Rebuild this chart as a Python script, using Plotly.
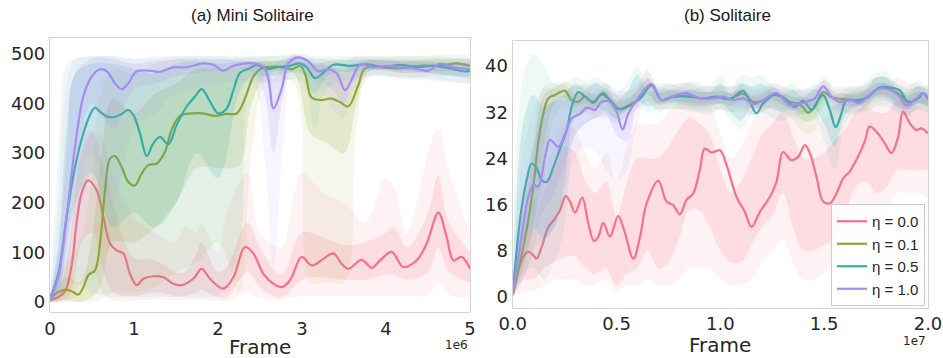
import plotly.graph_objects as go

# ---------------- data ----------------
LABELS = ["η = 0.0", "η = 0.1", "η = 0.5", "η = 1.0"]
COLORS = ["#f77189", "#97a431", "#36ada4", "#a48cf4"]

# ----- (a) Mini Solitaire : x in units of 1e6 frames -----
A0_X = [0, 0.1, 0.18, 0.26, 0.32, 0.38, 0.45, 0.556, 0.635, 0.714, 0.794, 0.873, 0.952, 1.032, 1.111, 1.23, 1.349, 1.468, 1.567, 1.706, 1.806, 1.905, 2.063, 2.183, 2.321, 2.421, 2.54, 2.659, 2.758, 2.857, 2.996, 3.115, 3.254, 3.373, 3.472, 3.552, 3.71, 3.829, 3.929, 4.067, 4.206, 4.365, 4.484, 4.623, 4.722, 4.802, 4.901, 5.0]
A0_Y = [5, 10, 22, 77, 165, 222, 245, 225, 172, 118, 104, 98, 57, 34, 47, 52, 50, 37, 34, 47, 67, 47, 27, 50, 111, 98, 57, 37, 30, 44, 91, 74, 87, 98, 77, 67, 85, 69, 84, 101, 71, 84, 118, 180, 131, 84, 91, 67]
A0_BX = [0, 0.125, 0.25, 0.375, 0.5, 0.625, 0.75, 1, 1.25, 1.5, 1.6, 1.75, 1.8, 2, 2.1, 2.35, 2.5, 2.75, 3, 3.25, 3.5, 3.75, 4, 4.1, 4.25, 4.5, 4.62, 4.75, 5]
A0_ILO = [0, 2, 20, 120, 140, 70, 20, 12, 20, 12, 12, 20, 25, 10, 10, 60, 30, 10, 45, 50, 45, 45, 55, 55, 45, 60, 110, 60, 40]
A0_IHI = [10, 30, 140, 300, 340, 280, 200, 90, 85, 60, 60, 100, 120, 60, 70, 160, 110, 55, 140, 130, 115, 120, 140, 150, 110, 180, 255, 160, 100]
A0_OLO = [0, 0, 5, 40, 60, 20, 3, 3, 5, 3, 3, 5, 5, 2, 2, 20, 8, 5, 12, 12, 12, 12, 12, 12, 12, 15, 40, 15, 10]
A0_OHI = [15, 60, 200, 330, 345, 330, 260, 170, 140, 120, 150, 140, 160, 100, 180, 260, 140, 110, 260, 220, 200, 160, 250, 230, 140, 300, 350, 260, 140]

A1_X = [0, 0.099, 0.198, 0.278, 0.337, 0.397, 0.456, 0.536, 0.595, 0.655, 0.714, 0.774, 0.853, 0.933, 1.012, 1.091, 1.171, 1.27, 1.369, 1.448, 1.548, 1.687, 1.825, 1.964, 2.103, 2.222, 2.321, 2.421, 2.52, 2.639, 2.778, 2.877, 2.98, 3.04, 3.115, 3.234, 3.353, 3.45, 3.55, 3.67, 3.75, 3.968, 4.167, 4.405, 4.643, 4.841, 5.0]
A1_Y = [7, 20, 25, 20, 15, 30, 54, 64, 118, 225, 289, 294, 272, 242, 235, 259, 276, 279, 303, 347, 375, 380, 380, 375, 379, 380, 410, 454, 471, 474, 473, 469, 476, 458, 412, 407, 410, 403, 394, 437, 471, 473, 471, 476, 476, 481, 476]
A1_BX = [0, 0.2, 0.35, 0.5, 0.6, 0.75, 1.0, 1.25, 1.5, 1.75, 2.0, 2.25, 2.4, 2.6, 2.9, 3.1, 3.3, 3.5, 3.65, 3.8, 4.2, 4.6, 5.0]
A1_ILO = [0, 5, 0, 10, 30, 120, 120, 150, 200, 270, 270, 275, 400, 460, 460, 340, 320, 300, 400, 465, 462, 465, 465]
A1_IHI = [10, 50, 40, 130, 280, 410, 380, 420, 440, 470, 470, 470, 480, 485, 485, 480, 475, 470, 480, 488, 485, 490, 488]
A1_OLO = [0, 0, 0, 0, 5, 20, 20, 30, 60, 80, 120, 20, 300, 450, 440, 40, 40, 40, 350, 455, 450, 455, 455]
A1_OHI = [15, 80, 120, 250, 420, 470, 460, 480, 490, 490, 490, 490, 495, 495, 495, 490, 490, 490, 495, 495, 495, 498, 498]

A2_X = [0, 0.099, 0.198, 0.298, 0.397, 0.476, 0.536, 0.595, 0.714, 0.833, 0.933, 0.992, 1.071, 1.151, 1.23, 1.31, 1.409, 1.508, 1.627, 1.726, 1.806, 1.905, 2.004, 2.103, 2.183, 2.262, 2.381, 2.46, 2.579, 2.698, 2.857, 2.976, 3.056, 3.155, 3.254, 3.373, 3.571, 3.77, 3.968, 4.167, 4.365, 4.563, 4.762, 4.921, 5.0]
A2_Y = [7, 57, 172, 272, 340, 377, 392, 383, 372, 377, 387, 377, 340, 294, 320, 333, 318, 357, 394, 414, 429, 404, 380, 390, 427, 462, 471, 478, 469, 473, 476, 481, 473, 451, 462, 478, 476, 479, 474, 478, 474, 476, 471, 465, 466]
A2_BX = [0, 0.1, 0.2, 0.3, 0.5, 0.75, 1.0, 1.25, 1.5, 1.75, 2.0, 2.25, 2.4, 2.6, 3.0, 3.15, 3.3, 3.6, 4.0, 4.5, 5.0]
A2_ILO = [0, 20, 120, 200, 260, 150, 180, 150, 200, 300, 250, 420, 455, 455, 460, 420, 455, 465, 468, 462, 450]
A2_IHI = [10, 120, 350, 460, 480, 480, 470, 460, 480, 485, 480, 485, 485, 485, 490, 480, 485, 488, 488, 485, 480]
A2_OLO = [0, 5, 30, 40, 20, 10, 10, 10, 10, 10, 15, 100, 440, 440, 445, 350, 430, 450, 455, 450, 440]
A2_OHI = [15, 300, 480, 490, 495, 495, 490, 490, 495, 495, 495, 495, 495, 495, 500, 495, 495, 495, 495, 495, 490]

A3_X = [0, 0.099, 0.198, 0.298, 0.397, 0.496, 0.595, 0.675, 0.774, 0.853, 0.933, 1.032, 1.19, 1.31, 1.468, 1.627, 1.825, 1.944, 2.063, 2.183, 2.421, 2.54, 2.6, 2.66, 2.758, 2.837, 2.956, 3.075, 3.194, 3.313, 3.413, 3.512, 3.591, 3.69, 3.849, 4.008, 4.167, 4.325, 4.504, 4.643, 4.802, 5.0]
A3_Y = [5, 50, 172, 313, 414, 454, 469, 465, 441, 429, 441, 465, 466, 464, 473, 473, 481, 478, 466, 476, 481, 474, 450, 390, 430, 481, 493, 485, 465, 469, 461, 427, 448, 478, 473, 476, 473, 471, 466, 480, 473, 469]
A3_BX = [0, 0.1, 0.2, 0.3, 0.5, 0.75, 1.0, 1.25, 1.5, 2.0, 2.4, 2.55, 2.66, 2.78, 2.9, 3.2, 3.4, 3.5, 3.6, 3.8, 4.2, 4.6, 5.0]
A3_ILO = [0, 20, 120, 260, 400, 350, 430, 440, 455, 465, 465, 420, 300, 420, 480, 450, 420, 400, 440, 465, 462, 460, 455]
A3_IHI = [10, 100, 300, 460, 490, 490, 480, 485, 488, 488, 485, 480, 450, 480, 497, 482, 470, 460, 480, 487, 483, 482, 482]
A3_OLO = [0, 5, 60, 180, 300, 200, 350, 380, 420, 440, 440, 300, 70, 330, 470, 430, 380, 370, 420, 455, 450, 445, 440]
A3_OHI = [15, 200, 440, 490, 495, 495, 490, 495, 495, 495, 490, 490, 480, 490, 500, 490, 485, 480, 490, 492, 490, 490, 490]

# ----- (b) Solitaire : x in units of 1e7 frames -----
B0_X = [0, 0.027, 0.051, 0.075, 0.099, 0.115, 0.14, 0.172, 0.204, 0.228, 0.255, 0.276, 0.3, 0.335, 0.364, 0.391, 0.412, 0.436, 0.468, 0.508, 0.536, 0.581, 0.613, 0.645, 0.701, 0.741, 0.773, 0.805, 0.837, 0.869, 0.901, 0.925, 0.958, 0.998, 1.03, 1.078, 1.118, 1.15, 1.19, 1.238, 1.27, 1.302, 1.342, 1.375, 1.407, 1.431, 1.463, 1.495, 1.527, 1.559, 1.591, 1.623, 1.663, 1.695, 1.719, 1.759, 1.792, 1.824, 1.856, 1.88, 1.912, 1.944, 1.968, 2.0]
B0_Y = [0.3, 4.6, 6.9, 7.8, 7.2, 6.6, 8.7, 12.1, 13.6, 15.0, 17.5, 16.5, 14.6, 17.2, 12.7, 9.7, 10.4, 12.8, 10.4, 14.0, 11.6, 6.6, 10.4, 16.2, 20.1, 16.5, 15.9, 14.3, 16.8, 17.9, 22.0, 25.7, 25.0, 25.4, 22.8, 17.3, 14.7, 12.1, 14.7, 17.3, 19.9, 25.1, 23.7, 24.3, 26.3, 24.9, 20.8, 16.5, 16.2, 17.9, 20.5, 21.7, 24.3, 26.9, 29.5, 28.3, 26.6, 24.9, 27.7, 32.1, 30.1, 28.9, 29.2, 28.3]
B1_X = [0, 0.027, 0.067, 0.099, 0.132, 0.172, 0.204, 0.252, 0.284, 0.316, 0.348, 0.388, 0.436, 0.5, 0.565, 0.613, 0.669, 0.717, 0.773, 0.853, 0.917, 0.982, 1.046, 1.11, 1.158, 1.206, 1.27, 1.334, 1.375, 1.399, 1.423, 1.456, 1.495, 1.535, 1.607, 1.671, 1.719, 1.767, 1.816, 1.864, 1.904, 1.952, 1.976, 2.0]
B1_Y = [0.3, 4.6, 11.6, 19.1, 28.9, 34.4, 35.0, 35.7, 34.1, 33.8, 34.7, 33.6, 35.3, 32.6, 33.3, 34.4, 36.7, 34.1, 34.7, 34.8, 34.4, 34.6, 34.3, 35.2, 33.8, 34.0, 35.2, 33.8, 33.5, 32.8, 31.9, 33.0, 35.5, 34.6, 34.2, 34.0, 35.0, 36.2, 36.0, 35.0, 33.8, 34.4, 35.3, 34.3]
B2_X = [0, 0.035, 0.067, 0.091, 0.115, 0.14, 0.164, 0.196, 0.228, 0.26, 0.284, 0.316, 0.348, 0.388, 0.428, 0.468, 0.516, 0.565, 0.613, 0.669, 0.717, 0.773, 0.853, 0.917, 0.982, 1.046, 1.11, 1.142, 1.174, 1.206, 1.262, 1.318, 1.358, 1.399, 1.439, 1.471, 1.495, 1.527, 1.556, 1.583, 1.607, 1.655, 1.703, 1.767, 1.816, 1.864, 1.904, 1.952, 1.976, 2.0]
B2_Y = [0.3, 13.3, 20.2, 23.1, 22.3, 20.2, 19.9, 22.5, 25.7, 28.9, 32.9, 35.5, 34.7, 33.8, 35.1, 34.1, 32.5, 33.2, 34.4, 36.7, 34.1, 34.7, 34.7, 34.4, 34.7, 34.3, 35.7, 33.8, 31.8, 33.5, 35.0, 34.1, 32.9, 34.0, 32.4, 34.1, 35.0, 32.4, 29.4, 31.8, 34.1, 34.1, 34.4, 36.3, 36.3, 35.8, 33.8, 34.4, 35.3, 34.4]
B3_X = [0, 0.035, 0.075, 0.099, 0.123, 0.156, 0.18, 0.22, 0.252, 0.284, 0.324, 0.356, 0.396, 0.428, 0.468, 0.5, 0.529, 0.557, 0.597, 0.669, 0.717, 0.773, 0.837, 0.901, 0.966, 1.014, 1.062, 1.11, 1.158, 1.206, 1.27, 1.334, 1.375, 1.415, 1.455, 1.495, 1.535, 1.575, 1.623, 1.671, 1.719, 1.767, 1.816, 1.864, 1.896, 1.944, 1.976, 2.0]
B3_Y = [0.3, 8.7, 17.3, 19.4, 19.1, 24.3, 27.2, 26.0, 28.3, 30.9, 31.7, 32.8, 32.4, 33.8, 33.8, 32.1, 29.0, 31.8, 34.1, 36.9, 34.1, 34.8, 35.3, 34.4, 34.4, 34.7, 34.1, 34.4, 33.4, 34.1, 35.3, 33.2, 33.4, 33.8, 34.4, 36.5, 34.7, 33.8, 34.1, 33.6, 35.0, 36.1, 35.9, 34.7, 33.2, 34.4, 35.3, 34.1]

B_BX = [0, 0.05, 0.1, 0.15, 0.2, 0.25, 0.3, 0.35, 0.4, 0.45, 0.5, 0.55, 0.6, 0.65, 0.7, 0.75, 0.8, 0.85, 0.9, 0.95, 1.0, 1.05, 1.1, 1.15, 1.2, 1.25, 1.3, 1.35, 1.4, 1.45, 1.5, 1.55, 1.6, 1.65, 1.7, 1.75, 1.8, 1.85, 1.9, 1.95, 2.0]
B0_ILO = [0, 3, 3, 5, 6, 7, 7, 5, 4, 5, 2, 4, 5, 8, 5, 6, 10, 15, 15, 12, 8, 6, 6, 9, 12, 14, 18, 12, 8, 8, 9, 10, 14, 19, 20, 18, 19, 22, 22, 22, 22]
B0_IHI = [1, 11, 12, 18, 22, 26, 25, 20, 18, 20, 14, 20, 24, 24, 24, 26, 29, 31, 30, 28, 22, 18, 20, 24, 28, 30, 32, 28, 24, 24, 25, 27, 29, 32, 33, 32, 32, 34, 34, 33, 32]
B0_OLO = [0, 1, 1, 2, 3, 3, 3, 2, 2, 3, 1, 2, 2, 3, 2, 2, 3, 5, 5, 5, 3, 2, 2, 3, 6, 8, 10, 6, 3, 3, 4, 6, 8, 12, 14, 12, 14, 18, 18, 18, 17]
B0_OHI = [2, 14, 16, 22, 26, 30, 29, 25, 22, 25, 20, 26, 30, 30, 30, 32, 34, 35, 34, 33, 28, 24, 26, 30, 33, 34, 35, 33, 30, 30, 31, 33, 35, 36, 36, 36, 36, 38, 37, 37, 35]

B1_ILO = [0, 5, 12, 26, 33.5, 34.5, 33, 33.5, 32.5, 34, 31.8, 32.4, 33.6, 35.4, 33.3, 33.7, 33.8, 33.7, 33.5, 33.5, 33.6, 33.3, 34, 32.8, 33, 34.2, 33.3, 32.3, 30.5, 30.5, 34.2, 33.6, 33.2, 33.1, 33.5, 34.8, 35, 34, 32.9, 33.6, 33.3]
B1_IHI = [1, 13, 25, 35, 36.3, 36.8, 35.2, 35.7, 34.9, 36.2, 33.8, 34.4, 35.6, 37.8, 35.3, 35.7, 35.8, 35.7, 35.5, 35.5, 35.6, 35.3, 36, 34.8, 35, 36.2, 35.3, 34.7, 34.5, 34.5, 36.4, 35.6, 35.2, 35.1, 35.5, 36.8, 37, 36, 34.9, 35.6, 35.3]
B1_OLO = [0, 3, 8, 20, 31, 33, 31.5, 32, 31, 32.5, 30.5, 31, 32.5, 34, 32, 32.5, 32.5, 32.5, 32, 32, 32.5, 32, 32.5, 31.5, 32, 33, 32, 30.5, 28.5, 28.5, 33, 32.5, 32, 32, 32.5, 33.5, 34, 33, 31.5, 32.5, 32]
B1_OHI = [2, 16, 28, 36.5, 37, 37.5, 36.5, 37, 36, 37, 35, 35.5, 36.5, 39, 36.5, 37, 37, 37, 36.5, 36.5, 36.5, 36.5, 37, 36, 36, 37, 36.5, 36, 36, 36, 37.5, 36.5, 36.5, 36.5, 36.5, 38, 38, 37, 36, 36.5, 36.5]

B2_ILO = [0, 10, 12, 10, 12, 20, 31, 32, 33, 32, 31, 32.5, 34, 33, 33.5, 33.5, 33.5, 33, 33, 33, 33.5, 32, 30.5, 33, 33, 32.5, 32, 32.5, 31.5, 32.5, 30, 26, 31.5, 33, 33, 34.5, 34.5, 33, 32.5, 33.5, 33]
B2_IHI = [1, 30, 35, 33, 34, 35, 37, 36, 37, 35.5, 34, 35.5, 38.5, 35.5, 36, 36, 35.5, 36, 36, 35.5, 37, 35, 37, 36.5, 37, 35.5, 35, 36, 34.5, 36, 35, 33, 35, 35.5, 36, 38, 38, 36, 35.5, 36.5, 35.8]
B2_OLO = [0, 4, 5, 3, 6, 12, 28, 30, 31, 31, 30, 31.5, 33, 32, 32.5, 32.5, 32.5, 32, 32, 31.5, 32.5, 30.5, 29, 31.5, 32, 31, 30.5, 31.5, 30, 31, 27, 22, 30, 32, 32, 33, 33, 32, 31, 32.5, 32]
B2_OHI = [2, 38, 42, 40, 37, 37, 38, 37.5, 38, 37, 35.5, 37, 40, 36.5, 37, 37, 36.5, 37.5, 37, 36.5, 38.5, 36, 38.5, 38, 38.5, 36.5, 36, 37, 35.5, 37, 36, 35, 36, 36.5, 37, 39, 39, 37, 36.5, 37.5, 36.5]

B3_ILO = [0, 6, 12, 15, 18, 23, 28, 30, 31, 31.5, 28, 27, 33, 35, 33.5, 34, 34, 33.5, 33.3, 33.3, 33.5, 33, 33, 32.5, 33, 34, 33.3, 32.2, 32.8, 33.3, 35, 33, 33, 32.8, 34, 35, 34.8, 33.6, 32.5, 33.5, 33]
B3_IHI = [1, 18, 26, 32, 34, 34, 35, 35, 35.5, 35.8, 35, 34, 36, 38, 35.5, 35.8, 36.3, 36, 35.5, 35.5, 35.7, 35.5, 35.7, 35, 35.5, 36.4, 35.7, 34.5, 35, 35.5, 37.5, 35, 35.3, 34.8, 36, 37, 37, 35.6, 34.3, 35.5, 35.2]
B3_OLO = [0, 3, 8, 10, 12, 18, 24, 26, 25, 22, 20, 22, 30, 34, 32.5, 33, 33, 32.5, 32.5, 32.5, 32.5, 32, 32, 31.5, 32, 33, 32.5, 31, 32, 32.5, 34, 32, 32, 31.5, 33, 34, 34, 32.5, 31.5, 32.5, 32]
B3_OHI = [2, 25, 32, 36, 36, 36, 36.5, 36.5, 37, 37, 36, 35.5, 37, 39.5, 36.5, 36.5, 37, 37, 36.5, 36.5, 36.5, 36.5, 36.5, 36, 36.5, 37, 36.5, 35.5, 36, 36.5, 38, 36, 36.2, 36, 37, 38, 38, 36.5, 35, 36.5, 36]

A_XTICKS = [0, 1, 2, 3, 4, 5]
A_YTICKS = [0, 100, 200, 300, 400, 500]
B_XTICKS = [0, 0.5, 1.0, 1.5, 2.0]
B_XTICKTEXT = ["0.0", "0.5", "1.0", "1.5", "2.0"]
B_YTICKS = [0, 8, 16, 24, 32, 40]

# ---------------- figure ----------------
W, H = 943, 358


def rgba(hexc, a):
    h = hexc.lstrip("#")
    r, g, b = int(h[0:2], 16), int(h[2:4], 16), int(h[4:6], 16)
    return f"rgba({r},{g},{b},{a})"


fig = go.Figure()


def add_band(x, lo, hi, color, alpha, xa, ya):
    fig.add_trace(go.Scatter(x=x, y=lo, mode="lines", line=dict(width=0, shape="spline", smoothing=1.0),
                             showlegend=False, hoverinfo="skip", xaxis=xa, yaxis=ya))
    fig.add_trace(go.Scatter(x=x, y=hi, mode="lines", line=dict(width=0, shape="spline", smoothing=1.0),
                             fill="tonexty", fillcolor=rgba(color, alpha),
                             showlegend=False, hoverinfo="skip", xaxis=xa, yaxis=ya))


def add_series(mx, my, bx, ilo, ihi, olo, ohi, color, label, xa, ya, legend):
    add_band(bx, olo, ohi, color, 0.09, xa, ya)
    add_band(bx, ilo, ihi, color, 0.17, xa, ya)
    fig.add_trace(go.Scatter(x=mx, y=my, mode="lines", name=label,
                             line=dict(color=color, width=2.2, shape="spline", smoothing=1.0),
                             showlegend=legend, xaxis=xa, yaxis=ya))


A_SERIES = [
    (A0_X, A0_Y, A0_BX, A0_ILO, A0_IHI, A0_OLO, A0_OHI),
    (A1_X, A1_Y, A1_BX, A1_ILO, A1_IHI, A1_OLO, A1_OHI),
    (A2_X, A2_Y, A2_BX, A2_ILO, A2_IHI, A2_OLO, A2_OHI),
    (A3_X, A3_Y, A3_BX, A3_ILO, A3_IHI, A3_OLO, A3_OHI),
]
B_SERIES = [
    (B0_X, B0_Y, B_BX, B0_ILO, B0_IHI, B0_OLO, B0_OHI),
    (B1_X, B1_Y, B_BX, B1_ILO, B1_IHI, B1_OLO, B1_OHI),
    (B2_X, B2_Y, B_BX, B2_ILO, B2_IHI, B2_OLO, B2_OHI),
    (B3_X, B3_Y, B_BX, B3_ILO, B3_IHI, B3_OLO, B3_OHI),
]

for i, s in enumerate(A_SERIES):
    add_series(*s, COLORS[i], LABELS[i], "x", "y", False)
for i, s in enumerate(B_SERIES):
    add_series(*s, COLORS[i], LABELS[i], "x2", "y2", True)

TICKFONT = dict(family="DejaVu Sans", size=18, color="#262626")
FRAME = "#d4d4d4"

axis_common = dict(showline=True, mirror=True, linecolor=FRAME, linewidth=1.2, automargin=False,
                   showgrid=False, zeroline=False, ticks="", tickfont=TICKFONT)

fig.update_layout(
    template="none",
    width=W, height=H,
    margin=dict(l=0, r=0, t=0, b=0, autoexpand=False),
    paper_bgcolor="white", plot_bgcolor="white",
    xaxis=dict(domain=[50 / W, 470 / W], range=[0, 5], tickvals=A_XTICKS, anchor="y", **axis_common),
    yaxis=dict(domain=[(H - 312) / H, (H - 38) / H], range=[-20, 532], tickvals=A_YTICKS, anchor="x", **axis_common),
    xaxis2=dict(domain=[512.7 / W, 928 / W], range=[0, 2], tickvals=B_XTICKS, ticktext=B_XTICKTEXT,
                anchor="y2", **axis_common),
    yaxis2=dict(domain=[(H - 307.7) / H, (H - 40.7) / H], range=[-1.9, 44.4], tickvals=B_YTICKS,
                anchor="x2", **axis_common),
    legend=dict(x=925 / W, xanchor="right", y=(H - 306) / H, yanchor="bottom",
                bgcolor="rgba(255,255,255,0.85)", bordercolor="#cccccc", borderwidth=1,
                font=dict(family="Liberation Sans", size=15, color="#262626"),
                itemwidth=30, tracegroupgap=0, traceorder="normal"),
    showlegend=True,
)

ann = []
TITLEFONT = dict(family="Liberation Sans", size=17, color="#1a1a1a")
ann.append(dict(text="(a) Mini Solitaire", x=252.5 / W, y=(H - 15) / H, xref="paper", yref="paper",
                showarrow=False, font=TITLEFONT, xanchor="center", yanchor="middle"))
ann.append(dict(text="(b) Solitaire", x=727.5 / W, y=(H - 15) / H, xref="paper", yref="paper",
                showarrow=False, font=TITLEFONT, xanchor="center", yanchor="middle"))
LABELFONT = dict(family="DejaVu Sans", size=20, color="#262626")
ann.append(dict(text="Frame", x=260 / W, y=(H - 347) / H, xref="paper", yref="paper",
                showarrow=False, font=LABELFONT, xanchor="center", yanchor="middle"))
ann.append(dict(text="Frame", x=720 / W, y=(H - 345) / H, xref="paper", yref="paper",
                showarrow=False, font=LABELFONT, xanchor="center", yanchor="middle"))
SMALL = dict(family="DejaVu Sans", size=12, color="#262626")
ann.append(dict(text="1e6", x=470 / W, y=(H - 345) / H, xref="paper", yref="paper",
                showarrow=False, font=SMALL, xanchor="right", yanchor="middle"))
ann.append(dict(text="1e7", x=928 / W, y=(H - 341) / H, xref="paper", yref="paper",
                showarrow=False, font=SMALL, xanchor="right", yanchor="middle"))
fig.update_layout(annotations=ann)

fig.write_html("out.html", config={"displayModeBar": False},
               post_script="document.body.style.margin='0';document.body.style.overflow='hidden';")
